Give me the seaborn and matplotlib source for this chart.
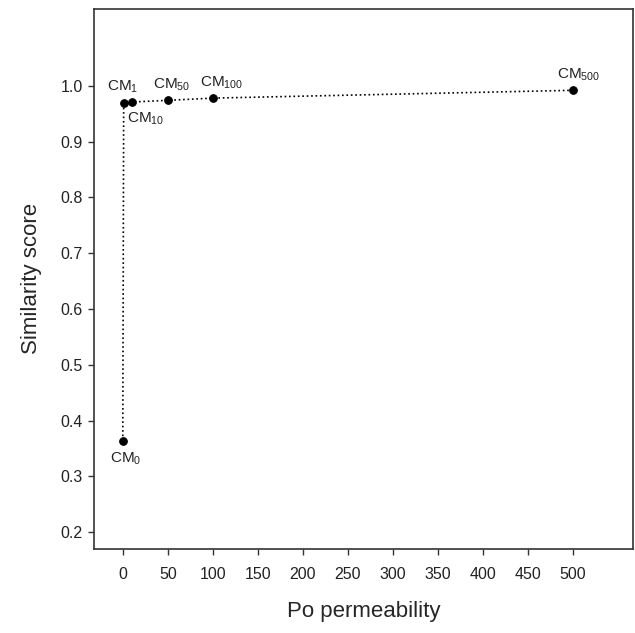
import numpy as np
import pandas as pd
import seaborn as sns
import matplotlib.pyplot as plt

# values
permeability = [0, 1, 10, 50, 100, 500]
similarity = [0.364, 0.970, 0.971, 0.974, 0.978, 0.992]
point_labels = ['CM$_{0}$', 'CM$_{1}$', 'CM$_{10}$', 'CM$_{50}$', 'CM$_{100}$', 'CM$_{500}$']
label_offsets = [(2, -13), (-1, 11.5), (10, -12), (2.5, 11), (6, 11), (4, 11.5)]
x_ticks = list(range(0, 501, 50))
y_ticks = [0.2, 0.3, 0.4, 0.5, 0.6, 0.7, 0.8, 0.9, 1.0]

sns.set_style('ticks')
plt.rcParams['font.family'] = ['Liberation Sans', 'DejaVu Sans']
plt.rcParams['mathtext.default'] = 'regular'

df = pd.DataFrame({'perm': permeability, 'score': similarity})

fig = plt.figure(figsize=(6.35, 6.33), dpi=100)
ax = fig.add_axes([0.148, 0.133, 0.849, 0.853])

sns.lineplot(data=df, x='perm', y='score', sort=False, ax=ax, color='black',
             linestyle=':', linewidth=1.2, marker='o', markersize=5.5,
             markeredgecolor='black')

for x, y, lab, off in zip(permeability, similarity, point_labels, label_offsets):
    ax.annotate(lab, (x, y), xytext=off, textcoords='offset points',
                ha='center', va='center', fontsize=11, color='#222222')

ax.set_xlim(-32, 567)
ax.set_ylim(0.17, 1.138)
ax.set_xticks(x_ticks)
ax.set_yticks(y_ticks)
ax.set_yticklabels([f'{v:.1f}' for v in y_ticks])
ax.tick_params(axis='both', labelsize=11.5, length=4, width=1, color='#333333',
               labelcolor='#222222', pad=4)
ax.tick_params(axis='x', pad=9)

for side in ['left', 'bottom', 'top', 'right']:
    ax.spines[side].set_visible(True)
    ax.spines[side].set_color('#333333')
    ax.spines[side].set_linewidth(1.2)

ax.set_xlabel('Po permeability', fontsize=16, labelpad=14)
ax.set_ylabel('Similarity score', fontsize=16, labelpad=13)

fig.savefig('out.png', dpi=100)
